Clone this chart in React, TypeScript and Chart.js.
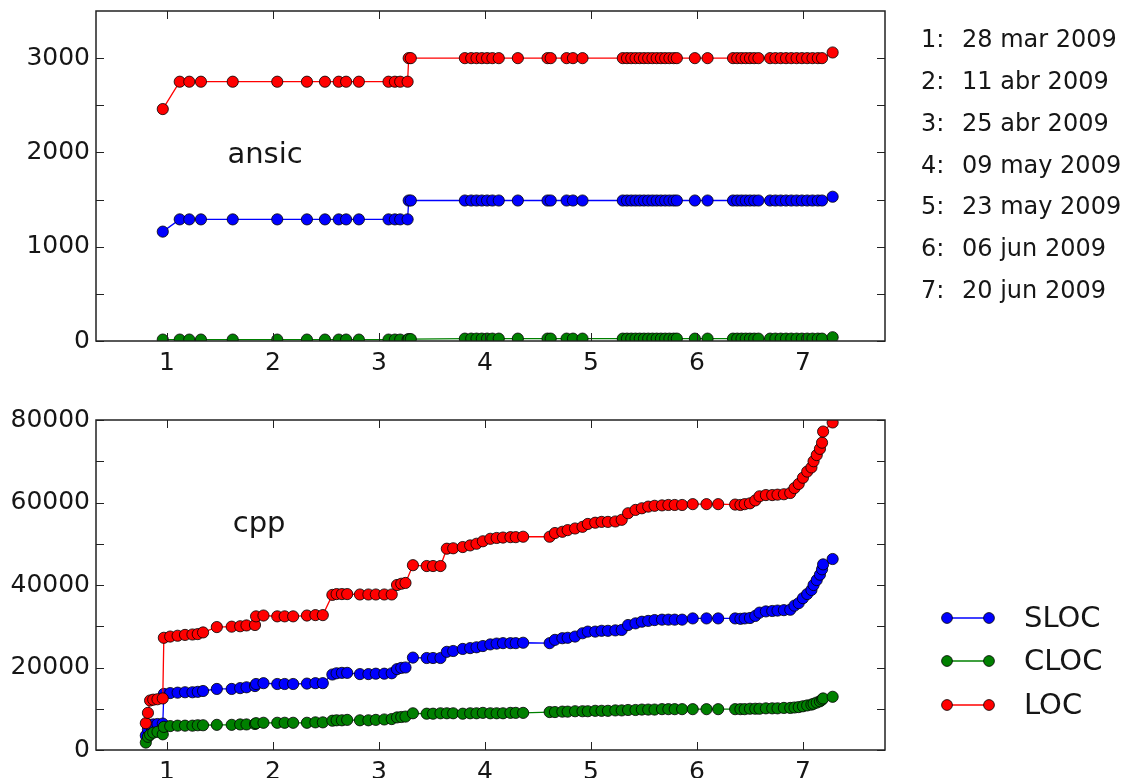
import React, { useEffect, useRef } from 'react';
import { Chart, registerables } from 'chart.js';

Chart.register(...registerables);

const FONT = '"DejaVu Sans", "Liberation Sans", sans-serif';
const TEXT = '#161616';

// ---------- shared ----------
const xTicks = [1, 2, 3, 4, 5, 6, 7];
const dateLabels = ['28 mar 2009', '11 abr 2009', '25 abr 2009', '09 may 2009', '23 may 2009', '06 jun 2009', '20 jun 2009'];
const seriesNames = ['SLOC', 'CLOC', 'LOC'];
const seriesColors = ['#0000ff', '#008000', '#ff0000'];

// ---------- ansic (top) ----------
const ansicX = [
  0.96, 1.12, 1.21, 1.32, 1.62, 2.04, 2.32, 2.49, 2.62, 2.69, 2.81, 3.09, 3.15, 3.20, 3.27, 3.28, 3.30,
  3.81, 3.87, 3.92, 3.97, 4.02, 4.07, 4.13, 4.31, 4.59, 4.62, 4.77, 4.83, 4.92,
  5.30, 5.34, 5.38, 5.42, 5.46, 5.50, 5.54, 5.58, 5.62, 5.66, 5.70, 5.74, 5.78, 5.81, 5.98, 6.10,
  6.34, 6.38, 6.42, 6.46, 6.50, 6.54, 6.58, 6.69, 6.74, 6.79, 6.84, 6.89, 6.94, 6.99, 7.04, 7.09, 7.14, 7.18, 7.28,
];
const ansicLOC = [
  2460, 2750, 2750, 2750, 2750, 2750, 2750, 2750, 2750, 2750, 2750, 2750, 2750, 2750, 2750, 3000, 3000,
  3000, 3000, 3000, 3000, 3000, 3000, 3000, 3000, 3000, 3000, 3000, 3000, 3000,
  3000, 3000, 3000, 3000, 3000, 3000, 3000, 3000, 3000, 3000, 3000, 3000, 3000, 3000, 3000, 3000,
  3000, 3000, 3000, 3000, 3000, 3000, 3000, 3000, 3000, 3000, 3000, 3000, 3000, 3000, 3000, 3000, 3000, 3000, 3060,
];
const ansicSLOC = [
  1160, 1290, 1290, 1290, 1290, 1290, 1290, 1290, 1290, 1290, 1290, 1290, 1290, 1290, 1290, 1490, 1490,
  1490, 1490, 1490, 1490, 1490, 1490, 1490, 1490, 1490, 1490, 1490, 1490, 1490,
  1490, 1490, 1490, 1490, 1490, 1490, 1490, 1490, 1490, 1490, 1490, 1490, 1490, 1490, 1490, 1490,
  1490, 1490, 1490, 1490, 1490, 1490, 1490, 1490, 1490, 1490, 1490, 1490, 1490, 1490, 1490, 1490, 1490, 1490, 1530,
];
const ansicCLOC = [
  15, 15, 15, 15, 15, 15, 15, 15, 15, 15, 15, 15, 15, 15, 15, 20, 20,
  25, 25, 25, 25, 25, 25, 25, 25, 25, 25, 25, 25, 25,
  25, 25, 25, 25, 25, 25, 25, 25, 25, 25, 25, 25, 25, 25, 25, 25,
  25, 25, 25, 25, 25, 25, 25, 25, 25, 25, 25, 25, 25, 25, 25, 25, 25, 25, 40,
];
const ansicYTicks = [0, 500, 1000, 1500, 2000, 2500, 3000];

// ---------- cpp (bottom) ----------
const cppX = [
  0.80, 0.82, 0.84, 0.87, 0.91, 0.96,
  0.97, 1.03, 1.10, 1.17, 1.24, 1.29, 1.34,
  1.47, 1.61, 1.69, 1.75, 1.83,
  1.84, 1.91,
  2.04, 2.11, 2.19,
  2.32, 2.40, 2.47,
  2.56, 2.60, 2.65, 2.70,
  2.82, 2.90, 2.97, 3.05, 3.12,
  3.17, 3.21, 3.25,
  3.32,
  3.45, 3.51, 3.58,
  3.64, 3.70,
  3.79, 3.86, 3.92, 3.98,
  4.05, 4.11, 4.17, 4.24, 4.29, 4.36,
  4.61, 4.66, 4.73, 4.78, 4.85, 4.92, 4.97, 5.04, 5.10, 5.16, 5.23, 5.29,
  5.35, 5.42, 5.48, 5.54, 5.60, 5.67, 5.73, 5.79, 5.86, 5.96, 6.09, 6.20,
  6.36, 6.41, 6.45, 6.50, 6.55, 6.59, 6.65, 6.71, 6.76, 6.82, 6.88, 6.92, 6.96, 7.00, 7.04, 7.08, 7.10, 7.13, 7.16, 7.18, 7.19, 7.28,
];
const cppLOC = [
  6500, 9000, 12000, 12200, 12300, 12500,
  27200, 27500, 27700, 27900, 28000, 28100, 28500,
  29800, 29900, 30000, 30200, 30300,
  32400, 32600,
  32400, 32400, 32400,
  32600, 32700, 32700,
  37600, 37800, 37800, 37800,
  37700, 37700, 37700, 37700, 37700,
  40000, 40300, 40500,
  44800,
  44600, 44600, 44600,
  48800, 48900,
  49200, 49600, 50000, 50600,
  51200, 51400, 51500, 51600, 51600, 51700,
  51700, 52600, 52900, 53300, 53700, 54100, 54800, 55100, 55300, 55300, 55400, 55800,
  57400, 58200, 58600, 59000, 59200, 59300, 59400, 59400, 59400, 59600, 59600, 59600,
  59500, 59400, 59600, 59800, 60500, 61500, 61800, 61800, 61900, 62000, 62300, 63500, 64500, 66000, 67500, 68500, 70000, 71500, 73000, 74500, 77200, 79400,
];
const cppSLOC = [
  3500, 5000, 6000, 6200, 6300, 6400,
  13600, 13800, 13900, 14000, 14000, 14100, 14300,
  14800, 14800, 15000, 15200, 15500,
  16000, 16200,
  16000, 16000, 16000,
  16100, 16200, 16200,
  18300, 18600, 18700, 18700,
  18400, 18400, 18500, 18500, 18600,
  19600, 19900, 20000,
  22400,
  22300, 22300, 22300,
  23800, 24000,
  24500, 24700, 24900, 25200,
  25600, 25800, 25900, 25900, 25900, 26000,
  25900, 26700, 27100, 27200, 27500, 28300, 28700, 28700, 28900, 28900, 29000, 29100,
  30300, 30700, 31100, 31300, 31500, 31600, 31600, 31600, 31600, 31900, 31900, 31900,
  31900, 31800, 31900, 32000, 32500, 33300, 33600, 33700, 33800, 33900, 34000, 35000, 35600, 36800, 37800, 38800, 40000, 41200, 42500, 43800, 45000, 46300,
];
const cppCLOC = [
  1800, 3200, 3700, 4200, 4400, 3800,
  5600, 5800, 5900, 5900, 5900, 6000, 6000,
  6100, 6100, 6200, 6200, 6300,
  6500, 6600,
  6600, 6600, 6600,
  6600, 6700, 6700,
  7100, 7200, 7200, 7300,
  7200, 7200, 7300, 7400, 7500,
  7900, 8000, 8100,
  8900,
  8800, 8800, 8900,
  8900, 8900,
  8800, 8900, 8900, 9000,
  8900, 8900, 8900, 9000, 9000, 9000,
  9200, 9200, 9300, 9300, 9400, 9400, 9400, 9500, 9500, 9500, 9600, 9600,
  9700, 9700, 9800, 9800, 9800, 9900, 9900, 9900, 9900, 9900, 9900, 9900,
  9900, 9900, 9900, 10000, 10000, 10000, 10100, 10100, 10100, 10200, 10200, 10300, 10400, 10600, 10800, 11000, 11200, 11500, 11800, 12200, 12500, 12900,
];
const cppYTicks = [0, 10000, 20000, 30000, 40000, 50000, 60000, 70000, 80000];

const X_MIN = 0.33;
const X_MAX = 7.774;

function makeDataset(i: number, xs: number[], ys: number[]) {
  const color = seriesColors[i];
  return {
    label: seriesNames[i],
    data: xs.map((x, k) => ({ x, y: ys[k] })),
    borderColor: color,
    backgroundColor: color,
    borderWidth: 1.3,
    pointRadius: 5.6,
    pointBackgroundColor: color,
    pointBorderColor: 'rgba(0,0,0,0.8)',
    pointBorderWidth: 1,
    tension: 0,
    clip: 0,
    order: 2 - i,
  };
}

function framePlugin(yTicks: number[], label: string, labelX: number, labelY: number, extra: (chart: any) => void) {
  return {
    id: 'frame',
    afterDatasetsDraw(chart: any) {
      const { ctx, chartArea: a } = chart;
      const xs = chart.scales.x;
      const ys = chart.scales.y;
      ctx.save();
      // annotation text
      ctx.fillStyle = TEXT;
      ctx.font = `29px ${FONT}`;
      ctx.textAlign = 'left';
      ctx.textBaseline = 'alphabetic';
      ctx.fillText(label, xs.getPixelForValue(labelX), ys.getPixelForValue(labelY));
      // inward ticks
      ctx.strokeStyle = '#222';
      ctx.lineWidth = 1;
      const L = 8;
      ctx.beginPath();
      xTicks.forEach((v) => {
        const p = Math.round(xs.getPixelForValue(v)) + 0.5;
        ctx.moveTo(p, a.bottom);
        ctx.lineTo(p, a.bottom - L);
        ctx.moveTo(p, a.top);
        ctx.lineTo(p, a.top + L);
      });
      yTicks.forEach((v) => {
        const p = Math.round(ys.getPixelForValue(v)) + 0.5;
        ctx.moveTo(a.left, p);
        ctx.lineTo(a.left + L, p);
        ctx.moveTo(a.right, p);
        ctx.lineTo(a.right - L, p);
      });
      ctx.stroke();
      // frame
      ctx.lineWidth = 1.5;
      ctx.strokeStyle = '#222';
      ctx.strokeRect(a.left, a.top, a.right - a.left, a.bottom - a.top);
      extra(chart);
      ctx.restore();
    },
  };
}

function makeConfig(opts: {
  xs: number[]; sloc: number[]; cloc: number[]; loc: number[];
  yMax: number; yTicks: number[]; labelEvery: number;
  padTop: number; xAxisHeight: number;
  label: string; labelX: number; labelY: number;
  extra: (chart: any) => void;
}) {
  return {
    type: 'line' as const,
    data: {
      datasets: [
        makeDataset(0, opts.xs, opts.sloc),
        makeDataset(1, opts.xs, opts.cloc),
        makeDataset(2, opts.xs, opts.loc),
      ],
    },
    options: {
      responsive: false,
      animation: false as const,
      events: [] as any[],
      layout: { padding: { top: opts.padTop, right: 252, left: 0, bottom: 0 }, autoPadding: false },
      plugins: { legend: { display: false }, tooltip: { enabled: false } },
      scales: {
        x: {
          type: 'linear' as const,
          min: X_MIN,
          max: X_MAX,
          grid: { display: false, drawTicks: false },
          border: { display: false },
          ticks: {
            autoSkip: false,
            maxRotation: 0,
            padding: 7,
            color: TEXT,
            font: { family: FONT, size: 25 },
            callback: (v: any) => String(v),
          },
          afterBuildTicks: (s: any) => { s.ticks = xTicks.map((v) => ({ value: v })); },
          afterFit: (s: any) => { s.height = opts.xAxisHeight; s.paddingLeft = 0; s.paddingRight = 0; },
        },
        y: {
          type: 'linear' as const,
          min: 0,
          max: opts.yMax,
          grid: { display: false, drawTicks: false },
          border: { display: false },
          ticks: {
            autoSkip: false,
            padding: 6,
            color: TEXT,
            font: { family: FONT, size: 25 },
            callback: (v: any) => (Number(v) % opts.labelEvery === 0 ? String(v) : ''),
          },
          afterBuildTicks: (s: any) => { s.ticks = opts.yTicks.map((v) => ({ value: v })); },
          afterFit: (s: any) => { s.width = 96; s.paddingTop = 0; s.paddingBottom = 0; },
        },
      },
    },
    plugins: [framePlugin(opts.yTicks, opts.label, opts.labelX, opts.labelY, opts.extra)],
  };
}

function drawDates(chart: any) {
  const { ctx, chartArea: a } = chart;
  ctx.fillStyle = TEXT;
  ctx.font = `24px ${FONT}`;
  ctx.textAlign = 'left';
  ctx.textBaseline = 'middle';
  dateLabels.forEach((d, i) => {
    const y = a.top + 30 + i * 41.8;
    ctx.fillText(`${i + 1}:`, a.right + 36, y);
    ctx.fillText(d, a.right + 77, y);
  });
}

function drawLegend(chart: any) {
  const { ctx, chartArea: a } = chart;
  const offsets = [132, 89, 45];
  seriesNames.forEach((name, i) => {
    const y = a.bottom - offsets[i];
    const x0 = a.right + 62;
    const x1 = a.right + 104;
    ctx.strokeStyle = seriesColors[i];
    ctx.lineWidth = 1.3;
    ctx.beginPath();
    ctx.moveTo(x0, y);
    ctx.lineTo(x1, y);
    ctx.stroke();
    [x0, x1].forEach((x) => {
      ctx.beginPath();
      ctx.arc(x, y, 5.4, 0, Math.PI * 2);
      ctx.fillStyle = seriesColors[i];
      ctx.fill();
      ctx.lineWidth = 1;
      ctx.strokeStyle = 'rgba(0,0,0,0.8)';
      ctx.stroke();
    });
    ctx.fillStyle = TEXT;
    ctx.font = `29px ${FONT}`;
    ctx.textAlign = 'left';
    ctx.textBaseline = 'middle';
    ctx.fillText(name, a.right + 139, y + 1);
  });
}

export default function App() {
  const topRef = useRef<HTMLCanvasElement>(null);
  const botRef = useRef<HTMLCanvasElement>(null);

  useEffect(() => {
    const top = new Chart(topRef.current as HTMLCanvasElement, makeConfig({
      xs: ansicX, sloc: ansicSLOC, cloc: ansicCLOC, loc: ansicLOC,
      yMax: 3500, yTicks: ansicYTicks, labelEvery: 1000,
      padTop: 11, xAxisHeight: 39,
      label: 'ansic', labelX: 1.57, labelY: 1890,
      extra: drawDates,
    }) as any);
    const bot = new Chart(botRef.current as HTMLCanvasElement, makeConfig({
      xs: cppX, sloc: cppSLOC, cloc: cppCLOC, loc: cppLOC,
      yMax: 80000, yTicks: cppYTicks, labelEvery: 20000,
      padTop: 40, xAxisHeight: 28,
      label: 'cpp', labelX: 1.62, labelY: 52850,
      extra: drawLegend,
    }) as any);
    return () => { top.destroy(); bot.destroy(); };
  }, []);

  return (
    <div style={{ position: 'fixed', left: 0, top: 0, width: 1137, height: 778, background: '#fff', overflow: 'hidden' }}>
      <canvas ref={topRef} width={1137} height={380} style={{ position: 'absolute', left: 0, top: 0 }} />
      <canvas ref={botRef} width={1137} height={398} style={{ position: 'absolute', left: 0, top: 380 }} />
    </div>
  );
}
